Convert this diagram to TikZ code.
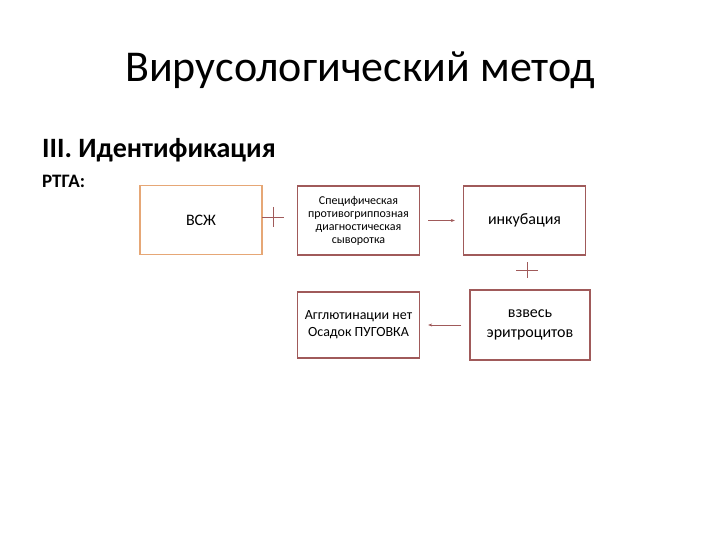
\documentclass[tikz,border=0pt]{standalone}
\usepackage{fontspec}
\setmainfont{Carlito}
\usetikzlibrary{arrows.meta}
\definecolor{boxred}{HTML}{A05A5A}
\definecolor{boxorange}{HTML}{E6A776}
\tikzset{
  box/.style={draw=boxred,line width=1.3pt,minimum width=122pt,minimum height=69pt,align=center,inner sep=2pt},
  link/.style={draw=boxred,line width=0.5pt,-{Stealth[length=4pt,width=3pt]},shorten >=8pt,shorten <=8pt}
}
\begin{document}
\begin{tikzpicture}[x=1pt,y=-1pt]
\useasboundingbox (0,0) rectangle (720,540);
\node[font=\fontsize{44}{48}\selectfont] (title) at (360,70) {Вирусологический метод};
\node[anchor=west,inner sep=0,font=\fontsize{28}{32}\selectfont\bfseries] (step) at (42,150) {III. Идентификация};
\node[anchor=west,inner sep=0,font=\fontsize{19}{22}\selectfont\bfseries] (rtga) at (42,181) {РТГА:};
\node[box,draw=boxorange,line width=1.8pt,font=\fontsize{16}{18}\selectfont] (vszh) at (201,220) {ВСЖ};
\node[box,font=\fontsize{12}{13}\selectfont] (serum) at (358.5,220.5) {Специфическая\\ противогриппозная\\ диагностическая\\ сыворотка};
\node[box,font=\fontsize{16}{18}\selectfont] (incub) at (524.5,220.5) {инкубация};
\node[box,minimum width=120pt,minimum height=70pt,font=\fontsize{16}{20}\selectfont] (eryth) at (530,325) {взвесь\\ эритроцитов};
\node[box,minimum height=66pt,font=\fontsize{14}{17}\selectfont] (result) at (358.5,325) {Агглютинации нет\\ Осадок ПУГОВКА};
% plus signs
\draw[boxred,line width=0.5pt] (273,207)--(273,227) (262,217)--(284,217);
\draw[boxred,line width=0.5pt] (527,262)--(527,278) (516,270)--(538,270);
\draw[link] (serum) -- (incub);
\draw[link] (eryth) -- (result);
\end{tikzpicture}
\end{document}
